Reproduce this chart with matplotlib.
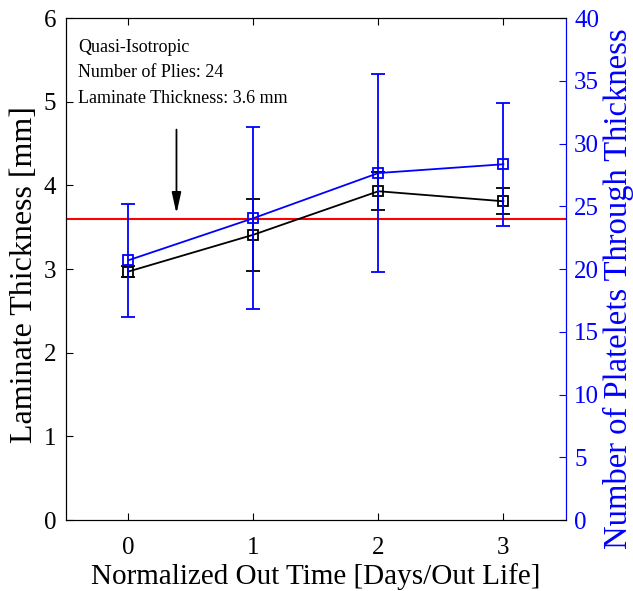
import matplotlib
matplotlib.use('Agg')
from matplotlib import pyplot as plt

out_time = [0, 1, 2, 3]
thickness = [2.97, 3.41, 3.93, 3.81]
thickness_err = [0.065, 0.43, 0.23, 0.155]
platelets = [20.7, 24.05, 27.65, 28.35]
platelets_err = [4.5, 7.25, 7.9, 4.9]
nominal_thickness = 3.6
info_lines = ['Quasi-Isotropic', 'Number of Plies: 24', 'Laminate Thickness: 3.6 mm']

plt.rcParams['font.family'] = ['Liberation Serif', 'DejaVu Serif']
plt.rcParams['mathtext.fontset'] = 'stix'

fig = plt.figure(figsize=(6.33, 5.91), dpi=100)
ax = fig.add_axes([0.104, 0.12, 0.79, 0.8495])

ax.axhline(nominal_thickness, color='red', linewidth=1.5, zorder=1)
ax.errorbar(out_time, thickness, yerr=thickness_err, color='black', marker='s', markersize=7.5,
            markerfacecolor='none', markeredgewidth=1.3, linewidth=1.3, capsize=5, elinewidth=1.3,
            capthick=1.3, zorder=3)
ax.set_xlim(-0.5, 3.5)
ax.set_ylim(0, 6)
ax.set_xticks(out_time)
ax.set_yticks(range(0, 7))
ax.tick_params(direction='in', length=5, labelsize=18, top=True, right=False)
ax.tick_params(axis='y', pad=7)
ax.tick_params(axis='x', pad=12)
ax.set_xlabel('Normalized Out Time [Days/Out Life]', fontsize=21, labelpad=3)
ax.set_ylabel('Laminate Thickness [mm]', fontsize=23, labelpad=3)
ax.yaxis.label.set_y(0.49)

ax2 = ax.twinx()
ax2.errorbar(out_time, platelets, yerr=platelets_err, color='blue', marker='s', markersize=7.5,
             markerfacecolor='none', markeredgewidth=1.3, linewidth=1.3, capsize=5, elinewidth=1.3,
             capthick=1.3, zorder=3)
ax2.set_ylim(0, 40)
ax2.set_yticks(range(0, 41, 5))
ax2.tick_params(direction='in', length=5, labelsize=18, colors='blue', pad=6)
ax2.spines['right'].set_color('blue')
ax2.set_ylabel('Number of Platelets Through Thickness', fontsize=23.5, color='blue', labelpad=3)
ax2.yaxis.label.set_y(0.46)

for i, line in enumerate(info_lines):
    ax.text(0.025, 0.942 - i * 0.051, line, transform=ax.transAxes, fontsize=13, va='center', ha='left')

ax.annotate('', xy=(0.385, 3.63), xytext=(0.385, 4.7),
            arrowprops=dict(arrowstyle='-|>,head_width=0.2,head_length=0.9', color='black',
                            linewidth=1.3, mutation_scale=14))

fig.savefig('out.png', dpi=100)
